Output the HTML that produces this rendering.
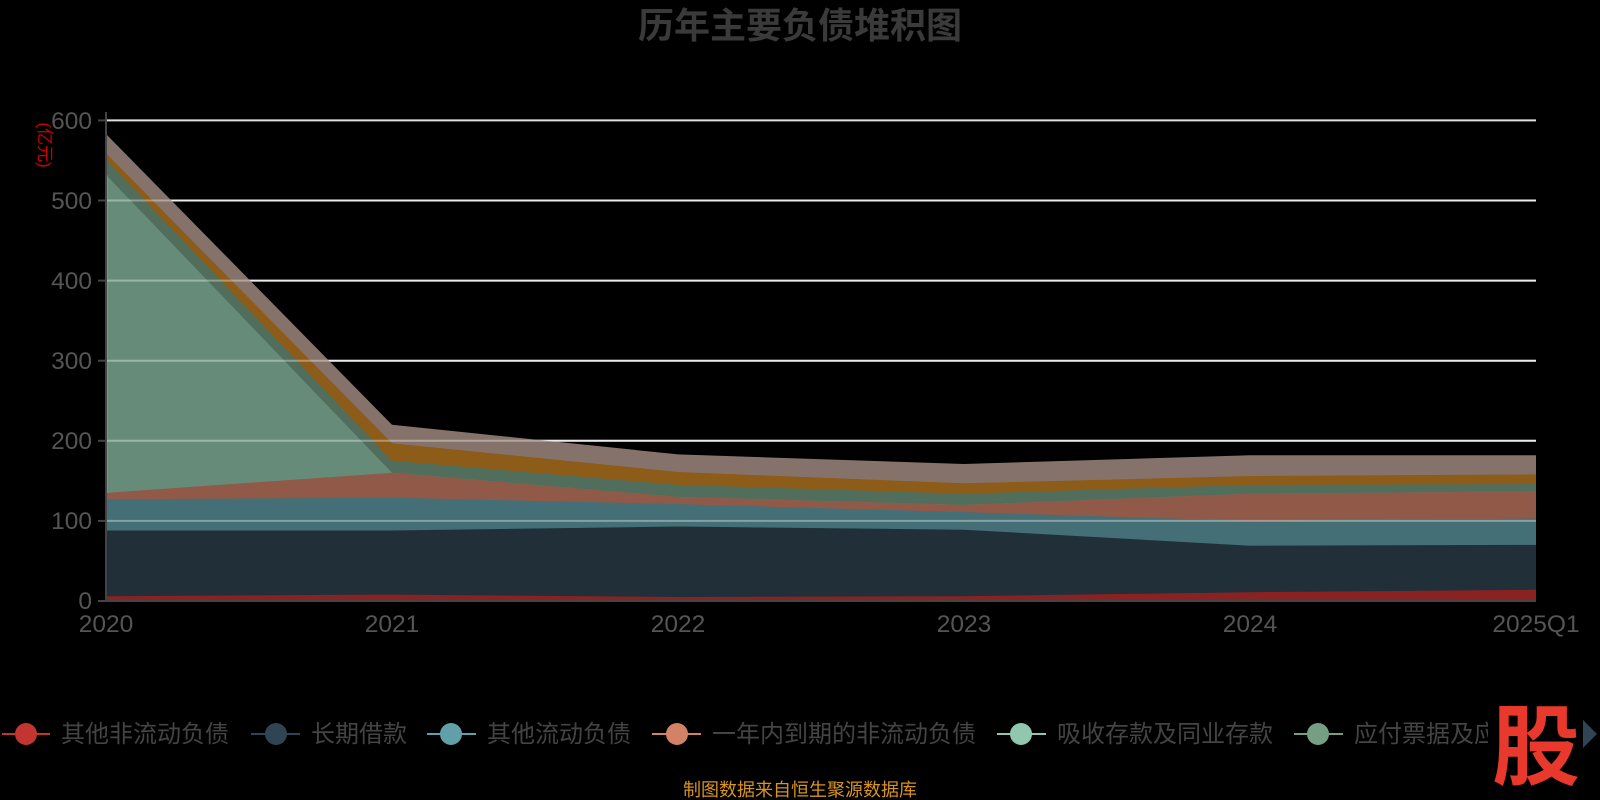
<!DOCTYPE html><html><head><meta charset="utf-8"><style>body{margin:0;background:#000;width:1600px;height:800px;overflow:hidden}svg{display:block}text{font-family:"Liberation Sans","Noto Sans CJK SC",sans-serif}</style></head><body>
<svg width="1600" height="800" viewBox="0 0 1600 800">
<text x="800" y="38" text-anchor="middle" font-size="36" font-weight="bold" fill="#3a3a3a">历年主要负债堆积图</text>
<g stroke="#e0e0e0" stroke-width="2">
<line x1="106" y1="120.4" x2="1536" y2="120.4"/><line x1="106" y1="200.5" x2="1536" y2="200.5"/><line x1="106" y1="280.6" x2="1536" y2="280.6"/><line x1="106" y1="360.7" x2="1536" y2="360.7"/><line x1="106" y1="440.8" x2="1536" y2="440.8"/><line x1="106" y1="520.9" x2="1536" y2="520.9"/></g>
<polygon fill="#85736b" points="106,134 392,424.8 678,454.4 964,464 1250,455.2 1536,455.2 1536,601 106,601"/>
<polygon fill="#8c5c18" points="106,153.2 392,443.2 678,472 964,483.3 1250,476 1536,474.4 1536,601 106,601"/>
<polygon fill="#506e5b" points="106,159.6 392,460.8 678,484.9 964,493.7 1250,484.9 1536,484.1 1536,601 106,601"/>
<polygon fill="#668c79" points="106,174.9 392,472.8 678,496.9 964,504.9 1250,493.7 1536,491.3 1536,601 106,601"/>
<polygon fill="#915a48" points="106,492.9 392,472.8 678,496.9 964,504.9 1250,493.7 1536,491.3 1536,601 106,601"/>
<polygon fill="#446f76" points="106,499.3 392,497.7 678,504.1 964,512.1 1250,520.9 1536,518.5 1536,601 106,601"/>
<polygon fill="#212f39" points="106,530.5 392,530.5 678,526.5 964,529.7 1250,545.7 1536,544.9 1536,601 106,601"/>
<polygon fill="#8b2222" points="106,596.2 392,594.6 678,597 964,596.2 1250,592.2 1536,589.8 1536,601 106,601"/>
<g stroke="#fff" stroke-opacity="0.35" stroke-width="2">
<line x1="106" y1="200.5" x2="1536" y2="200.5"/><line x1="106" y1="280.6" x2="1536" y2="280.6"/><line x1="106" y1="360.7" x2="1536" y2="360.7"/><line x1="106" y1="440.8" x2="1536" y2="440.8"/><line x1="106" y1="520.9" x2="1536" y2="520.9"/></g>
<line x1="106.5" y1="175" x2="106.5" y2="493" stroke="#91c7ae" stroke-width="1.5"/>
<g stroke="#444" stroke-width="2"><line x1="106" y1="112" x2="106" y2="601"/><line x1="98" y1="120.4" x2="106" y2="120.4"/><line x1="98" y1="200.5" x2="106" y2="200.5"/><line x1="98" y1="280.6" x2="106" y2="280.6"/><line x1="98" y1="360.7" x2="106" y2="360.7"/><line x1="98" y1="440.8" x2="106" y2="440.8"/><line x1="98" y1="520.9" x2="106" y2="520.9"/><line x1="98" y1="601" x2="106" y2="601"/><line x1="106" y1="601" x2="1536" y2="601"/></g>
<g fill="#555" font-size="24.5" text-anchor="end"><text x="92" y="129">600</text><text x="92" y="209">500</text><text x="92" y="289">400</text><text x="92" y="369">300</text><text x="92" y="449">200</text><text x="92" y="529">100</text><text x="92" y="609">0</text></g>
<g fill="#555" font-size="24.5" text-anchor="middle"><text x="106" y="632">2020</text><text x="392" y="632">2021</text><text x="678" y="632">2022</text><text x="964" y="632">2023</text><text x="1250" y="632">2024</text><text x="1536" y="632">2025Q1</text></g>
<text transform="translate(39,145) rotate(90)" text-anchor="middle" fill="#c00" font-size="17">(亿元)</text>
<g font-size="24" fill="#444">
<line x1="2" y1="734" x2="50" y2="734" stroke="#c23531" stroke-width="2"/><circle cx="26" cy="734" r="11" fill="#c23531"/><text x="61" y="742">其他非流动负债</text>
<line x1="251" y1="734" x2="300" y2="734" stroke="#2f4554" stroke-width="2"/><circle cx="276" cy="734" r="11" fill="#2f4554"/><text x="311" y="742">长期借款</text>
<line x1="427" y1="734" x2="476" y2="734" stroke="#61a0a8" stroke-width="2"/><circle cx="451" cy="734" r="11" fill="#61a0a8"/><text x="487" y="742">其他流动负债</text>
<line x1="652" y1="734" x2="701" y2="734" stroke="#d48265" stroke-width="2"/><circle cx="677" cy="734" r="11" fill="#d48265"/><text x="712" y="742">一年内到期的非流动负债</text>
<line x1="997" y1="734" x2="1046" y2="734" stroke="#91c7ae" stroke-width="2"/><circle cx="1021" cy="734" r="11" fill="#91c7ae"/><text x="1057" y="742">吸收存款及同业存款</text>
<line x1="1294" y1="734" x2="1343" y2="734" stroke="#749f83" stroke-width="2"/><circle cx="1318" cy="734" r="11" fill="#749f83"/><text x="1354" y="742">应付票据及应付账款</text>
</g>
<rect x="1488" y="690" width="112" height="110" fill="#000"/>
<text x="1536" y="778" text-anchor="middle" font-size="88" font-weight="bold" fill="#e8392c">股</text>
<polygon points="1583,720 1597,734 1583,748" fill="#2f4554"/>
<text x="800" y="796" text-anchor="middle" font-size="18" fill="#d9941e">制图数据来自恒生聚源数据库</text>
</svg></body></html>
